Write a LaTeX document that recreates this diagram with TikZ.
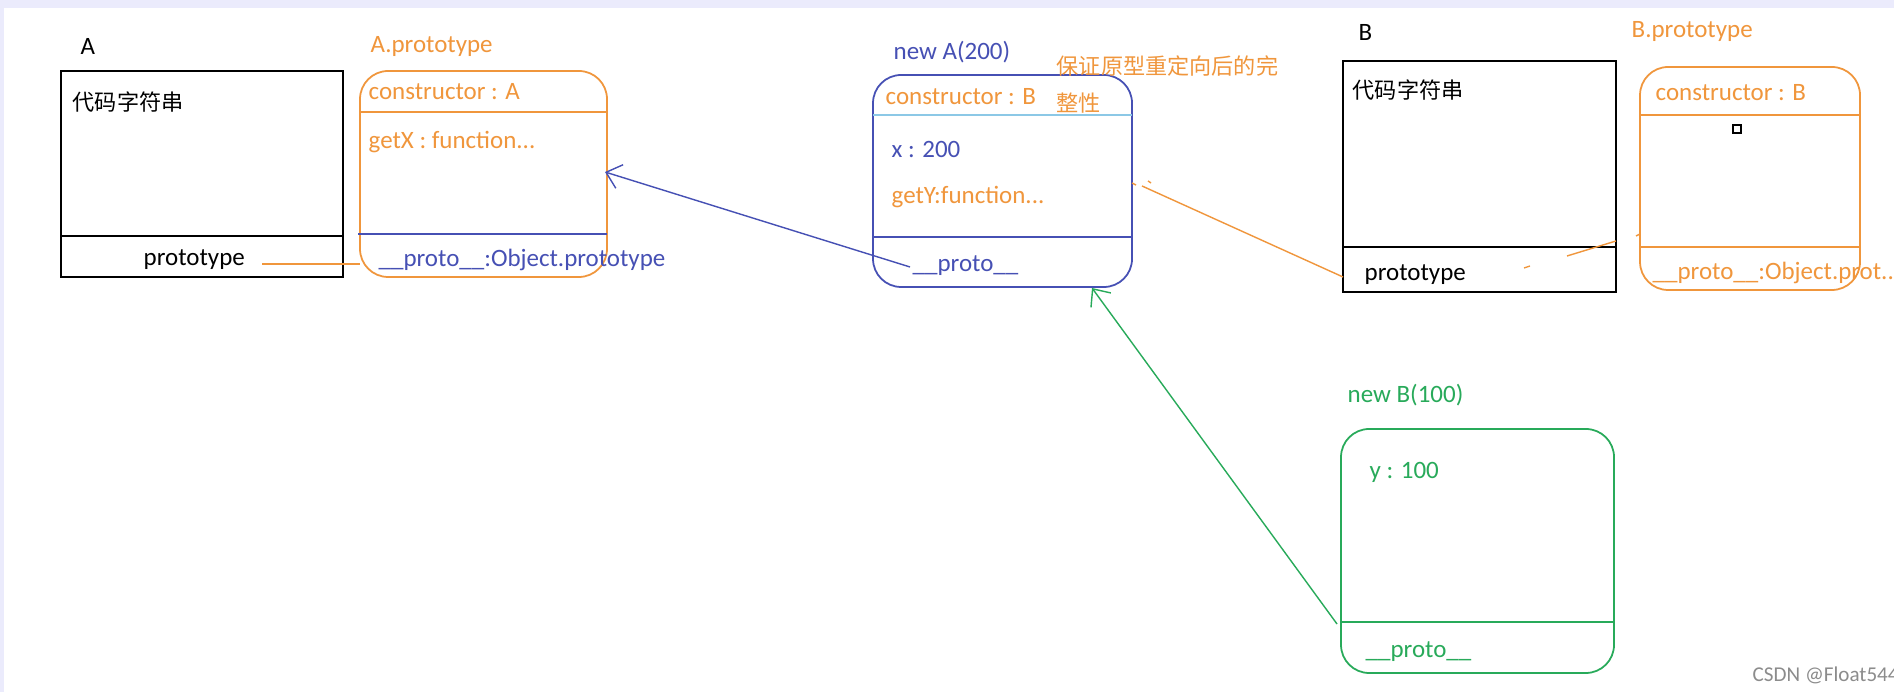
\documentclass[tikz,border=0pt]{standalone}
\usepackage{fontspec}
\usetikzlibrary{arrows.meta}
\setmainfont{Carlito}
\newfontfamily\cjkf{Noto Sans CJK SC}
\newcommand{\cjk}{\cjkf\fontsize{6.3}{8}\selectfont}
\definecolor{org}{RGB}{240,150,60}
\definecolor{blu}{RGB}{70,80,180}
\definecolor{grn}{RGB}{40,170,90}
\definecolor{lbl}{RGB}{140,200,230}
\begin{document}
\begin{tikzpicture}[x=0.01cm,y=-0.01cm,
  txt/.style={anchor=west,inner sep=0,font=\fontsize{7.1}{9}\selectfont},
  rbox/.style={rounded corners=8pt,line width=0.5pt}]
\useasboundingbox (0,0) rectangle (1894,692);
\fill[white] (0,0) rectangle (1894,692);
\fill[black!15!blue!8] (0,0) rectangle (1894,8);
\fill[black!15!blue!8] (0,0) rectangle (4,692);
% A
\node[txt] (la) at (80,47) {A};
\draw[line width=0.6pt] (61,71) rectangle (343,277);
\draw[line width=0.6pt] (61,236) -- (343,236);
\node[txt] (ca) at (72,102) {\cjk 代码字符串};
\node[txt] (pa) at (143,260) {prototype};
% A.prototype
\node[txt,text=org] (lap) at (370,47) {A.prototype};
\draw[rbox,org] (360,71) rectangle (607,277);
\draw[org] (360,112) -- (607,112);
\draw[blu] (358,234) -- (607,234);
\node[txt,text=org] (c1) at (368,92) {constructor : A};
\node[txt,text=org] (g1) at (368,142) {getX : function...};
\node[txt,text=blu] (p1) at (378,260) {\_\_proto\_\_:Object.prototype};
\draw[org] (262,264) -- (360,264);
% new A(200)
\node[txt,text=blu] (lna) at (893,52) {new A(200)};
\draw[rbox,blu] (873,75) rectangle (1132,287);
\draw[lbl] (873,115) -- (1132,115);
\draw[blu] (873,237) -- (1132,237);
\node[txt,text=org] (c2) at (885,97) {constructor : B};
\node[txt,text=blu] (x2) at (891,150) {x : 200};
\node[txt,text=org] (g2) at (891,197) {getY:function...};
\node[txt,text=blu] (p2) at (912,266) {\_\_proto\_\_};
\node[txt,text=org] (note1) at (1056,66) {\cjk 保证原型重定向后的完};
\node[txt,text=org] (note2) at (1056,103) {\cjk 整性};
\coordinate (a1) at (910,267);
\coordinate (a2) at (605,172);
\draw[blu,-{Straight Barb[length=4pt,width=7pt]}] (a1) -- (a2);
% B
\node[txt] (lb) at (1358,33) {B};
\draw[line width=0.6pt] (1343,61) rectangle (1616,292);
\draw[line width=0.6pt] (1343,247) -- (1616,247);
\node[txt] (cb) at (1352,90) {\cjk 代码字符串};
\node[txt] (pb) at (1364,275) {prototype};
% B.prototype
\node[txt,text=org] (lbp) at (1631,32) {B.prototype};
\draw[rbox,org] (1640,67) rectangle (1860,290);
\draw[org] (1640,115) -- (1860,115);
\draw[org] (1640,247) -- (1860,247);
\node[txt,text=org] (c3) at (1655,93) {constructor : B};
\draw[line width=0.6pt] (1733,125) rectangle (1741,133);
\node[txt,text=org] (p3) at (1652,273) {\_\_proto\_\_:Object.prot..};
\coordinate (b1) at (1343,277);
\coordinate (b2) at (1142,186);
\draw[org] (b1) -- (b2);
\draw[org] (1132,183) -- (1136,185);
\draw[org] (1148,181) -- (1151,183);
\draw[org] (1524,268) -- (1530,266);
\draw[org] (1567,256) -- (1616,241);
\draw[org] (1636,236) -- (1640,234);
% new B(100)
\node[txt,text=grn] (lnb) at (1347,395) {new B(100)};
\draw[rbox,grn] (1341,429) rectangle (1614,673);
\draw[grn] (1341,622) -- (1614,622);
\node[txt,text=grn] (yb) at (1369,472) {y : 100};
\node[txt,text=grn] (pbb) at (1365,652) {\_\_proto\_\_};
\coordinate (g1s) at (1337,624);
\coordinate (g1e) at (1092,288);
\draw[grn,-{Straight Barb[length=4pt,width=7pt]}] (g1s) -- (g1e);
\node[txt,text=black!45,font=\fontsize{6}{7}\selectfont] (wm) at (1752,675) {CSDN @Float544};
\end{tikzpicture}
\end{document}
